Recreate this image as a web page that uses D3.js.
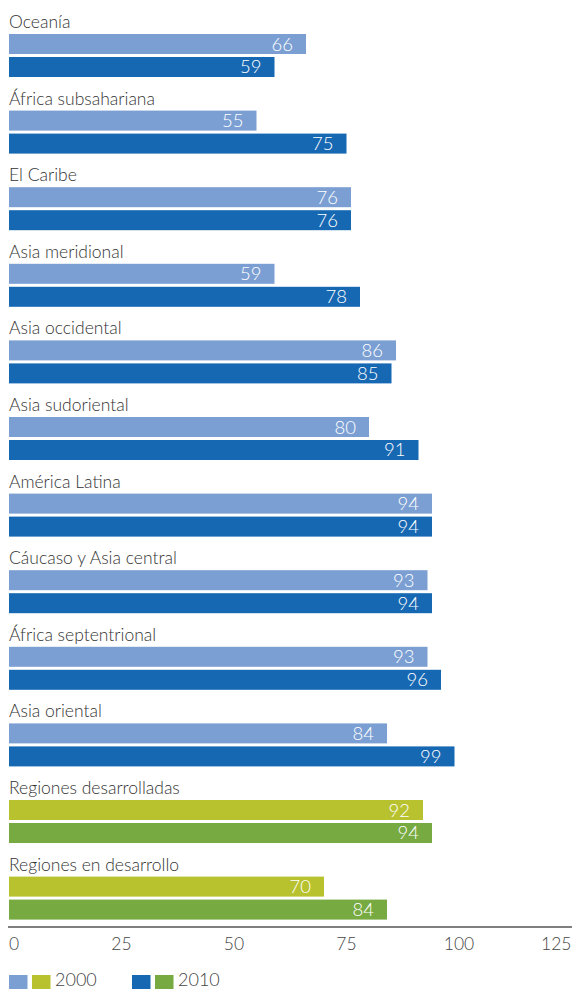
<!DOCTYPE html>
<html><head><meta charset="utf-8">
<script src="https://cdn.jsdelivr.net/npm/d3@7"></script>
<style>
html,body{margin:0;padding:0;background:#fff;}
svg{display:block;font-family:Lato,"Open Sans",sans-serif;font-weight:300;}
</style></head>
<body>
<svg id="c" width="572" height="989"></svg>
<script>
const categories = ["Oceanía","África subsahariana","El Caribe","Asia meridional","Asia occidental","Asia sudoriental","América Latina","Cáucaso y Asia central","África septentrional","Asia oriental","Regiones desarrolladas","Regiones en desarrollo"];
const values2000 = [66,55,76,59,86,80,94,93,93,84,92,70];
const values2010 = [59,75,76,78,85,91,94,94,96,99,94,84];
const ticks = [0,25,50,75,100,125];
const seriesNames = ["2000","2010"];
const regionColors = ["#7b9fd3","#1768b3"];
const aggColors = ["#b8c22e","#78aa42"];
const aggregates = ["Regiones desarrolladas","Regiones en desarrollo"];

const svg = d3.select("#c");
const x = d3.scaleLinear().domain([0,125]).range([9,571.5]);
const gy = d3.scaleBand().domain(categories).range([11, 11+12*76.6]);
const sy = d3.scaleBand().domain(seriesNames).range([23, 66]).paddingInner(0.13);

const rows = categories.map((c,i)=>({c, v:[values2000[i], values2010[i]], agg: aggregates.includes(c)}));

const g = svg.selectAll("g.grp").data(rows).join("g").attr("class","grp")
  .attr("transform", d=>`translate(0,${gy(d.c)})`);

g.append("text").attr("x",9).attr("y",17).attr("font-size",17.5).attr("fill","#333").text(d=>d.c);

seriesNames.forEach((s,k)=>{
  g.append("rect").attr("x",x(0)).attr("y",sy(s)).attr("height",sy.bandwidth())
    .attr("width", d=>x(d.v[k])-x(0))
    .attr("fill", d=> d.agg ? aggColors[k] : regionColors[k]);
  g.append("text").attr("x", d=>x(d.v[k])-13).attr("y", sy(s)+sy.bandwidth()/2+6.5)
    .attr("text-anchor","end").attr("font-size",18.5).attr("fill","#fff").text(d=>d.v[k]);
});

// axis
const axisY = 927;
svg.append("line").attr("x1",8).attr("x2",572).attr("y1",axisY).attr("y2",axisY)
  .attr("stroke","#555").attr("stroke-width",1.6);
svg.selectAll("text.tick").data(ticks).join("text").attr("class","tick")
  .attr("x", d=>x(d)).attr("y",950)
  .attr("text-anchor",(d,i)=> i===0 ? "start" : (i===ticks.length-1 ? "end" : "middle"))
  .attr("font-size",17.5).attr("fill","#444").text(d=>d);

// legend
const leg = [{x:9, colors:[regionColors[0],aggColors[0]], label:seriesNames[0]},
             {x:132, colors:[regionColors[1],aggColors[1]], label:seriesNames[1]}];
leg.forEach(l=>{
  l.colors.forEach((col,j)=>{
    svg.append("rect").attr("x",l.x+j*23).attr("y",975).attr("width",18.5).attr("height",19).attr("fill",col);
  });
  svg.append("text").attr("x",l.x+46).attr("y",985.5).attr("font-size",18).attr("fill","#444").text(l.label);
});
</script>
</body></html>
